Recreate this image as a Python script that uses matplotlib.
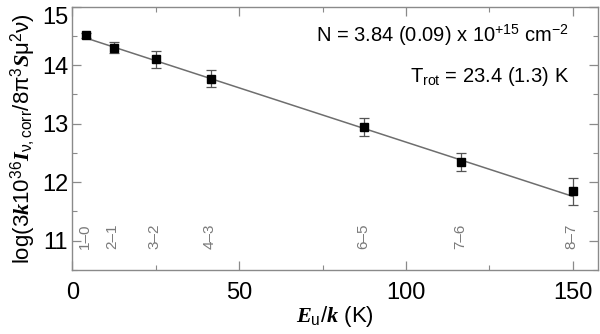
import numpy as np
import matplotlib
matplotlib.use("Agg")
import matplotlib.pyplot as plt
from matplotlib.ticker import MultipleLocator

plt.rcParams["font.family"] = ["Liberation Sans", "DejaVu Sans"]
plt.rcParams["mathtext.fontset"] = "custom"
plt.rcParams["mathtext.rm"] = "Liberation Sans"
plt.rcParams["mathtext.it"] = "Liberation Serif:italic:bold"
plt.rcParams["mathtext.bf"] = "Liberation Sans:bold"

# rotation-diagram data
transitions = ["1\u20130", "2\u20131", "3\u20132", "4\u20133", "6\u20135", "7\u20136", "8\u20137"]
e_up = [4.2, 12.5, 25.0, 41.6, 87.5, 116.6, 150.0]
log_n = [14.51, 14.30, 14.10, 13.77, 12.94, 12.34, 11.84]
log_err = [0.04, 0.10, 0.15, 0.15, 0.15, 0.15, 0.235]

# fitted line: intercept and slope (-log10(e)/T_rot)
fit_a = 14.54
t_rot = 23.4

GRAY = "#8a8a8a"

fig = plt.figure(figsize=(6.0, 3.34), dpi=100)
ax = fig.add_axes([0.1205, 0.192, 0.876, 0.788])

xf = np.array([e_up[0], e_up[-1]])
ax.plot(xf, fit_a - np.log10(np.e) / t_rot * xf, color="#6e6e6e", lw=1.1, zorder=2)
ax.errorbar(e_up, log_n, yerr=log_err, fmt="s", color="black", ms=5.5,
            ecolor="#555555", elinewidth=0.9, capsize=3.5, capthick=0.9, zorder=3)

for lab, x in zip(transitions, e_up):
    ax.text(x - 0.4, 11.07, lab, rotation=90, ha="center", va="center",
            fontsize=11, color="#7a7a7a")

ax.text(0.945, 0.89, "N = 3.84 (0.09) x 10$^{+15}$ cm$^{-2}$", transform=ax.transAxes,
        ha="right", va="center", fontsize=14.5)
ax.text(0.945, 0.735, "T$_{\\rm rot}$ = 23.4 (1.3) K", transform=ax.transAxes,
        ha="right", va="center", fontsize=14.5)

ax.set_xlim(0, 157.5)
ax.set_ylim(10.5, 15)
ax.xaxis.set_major_locator(MultipleLocator(50))
ax.xaxis.set_minor_locator(MultipleLocator(25))
ax.yaxis.set_major_locator(MultipleLocator(1))
ax.yaxis.set_minor_locator(MultipleLocator(0.5))
ax.tick_params(which="both", direction="in", top=True, right=True, color=GRAY,
               labelsize=17)
ax.tick_params(axis="x", pad=9)
ax.tick_params(axis="y", pad=3)
ax.tick_params(which="major", length=6.5, width=0.9)
ax.tick_params(which="minor", length=3.5, width=0.8)
for sp in ax.spines.values():
    sp.set_color(GRAY)
    sp.set_linewidth(1.0)

ax.set_xlabel("$\\mathit{E}_{\\rm u}/\\mathit{k}$ (K)", fontsize=16, labelpad=0)
ax.set_ylabel("log(3$\\mathit{k}$10$^{36}$$\\mathit{I}_{\\rm \u03bd,corr}$/8\u03c0$^{3}$$\\mathit{S}$\u03bc$^{2}$\u03bd)",
              fontsize=16, labelpad=3)

# top y label sits below its tick, as in the original
fig.canvas.draw()
for t in ax.yaxis.get_major_ticks():
    if abs(t.get_loc() - 15) < 1e-6:
        t.label1.set_verticalalignment("top")

fig.savefig("out.png", dpi=100)
